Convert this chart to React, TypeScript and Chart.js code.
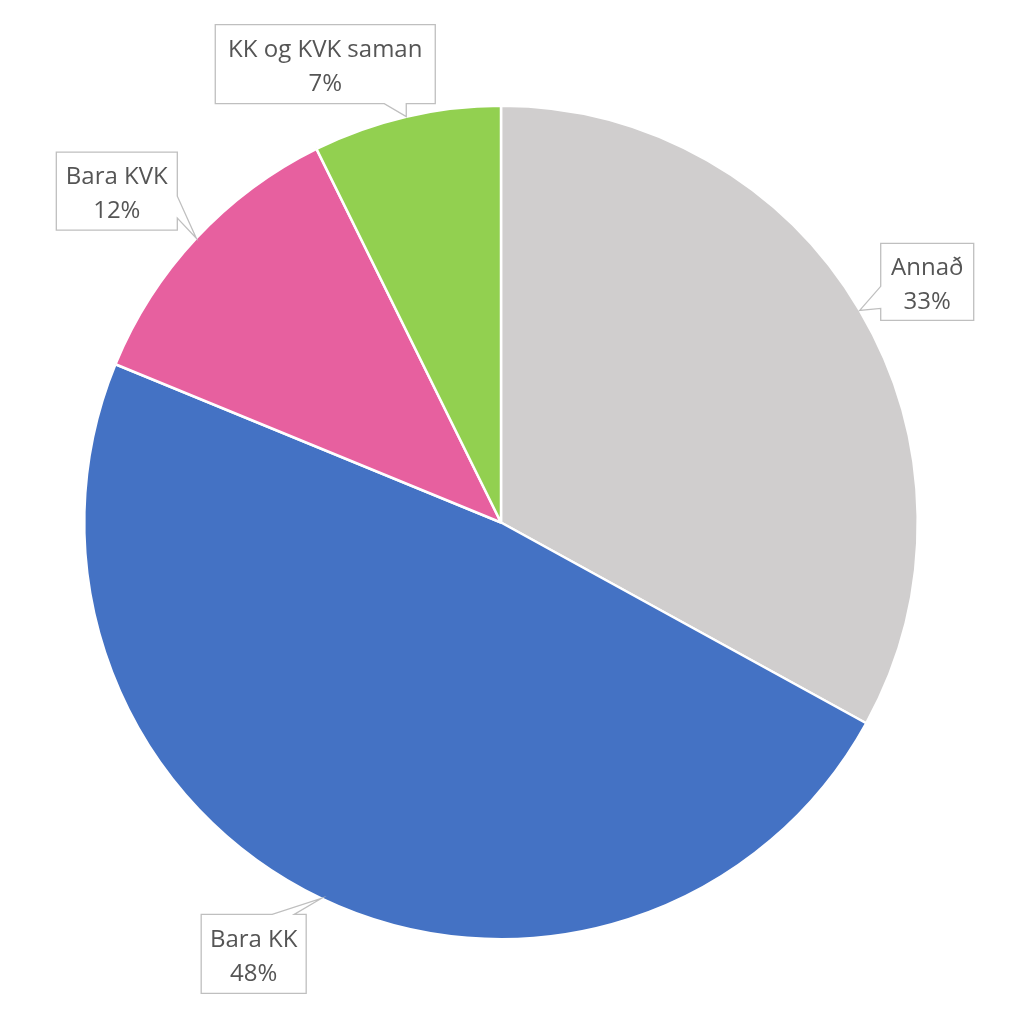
import React, { useEffect, useRef } from "react";
import { Chart, registerables } from "chart.js";

Chart.register(...registerables);

const categories = ["Annað", "Bara KK", "Bara KVK", "KK og KVK saman"];
const values = [33.0, 48.2, 11.5, 7.3];
const percentLabels = ["33%", "48%", "12%", "7%"];
const colors = ["#D0CECE", "#4472C4", "#E7609F", "#92D050"];

// Callout box placement relative to the point on the slice's outer edge
const calloutOffsets = [
  { dx: 21, dy: -67, w: 93, h: 77, side: "left" },
  { dx: -120, dy: 16, w: 105, h: 79, side: "top" },
  { dx: -140, dy: -86, w: 121, h: 78, side: "right" },
  { dx: -191, dy: -92, w: 220, h: 79, side: "bottom" },
];

const calloutPlugin = {
  id: "callouts",
  afterDatasetsDraw(chart: any) {
    const ctx = chart.ctx as CanvasRenderingContext2D;
    const meta = chart.getDatasetMeta(0);
    meta.data.forEach((arc: any, i: number) => {
      const p = arc.getProps(["x", "y", "startAngle", "endAngle", "outerRadius"], true);
      const mid = (p.startAngle + p.endAngle) / 2;
      const tx = p.x + Math.cos(mid) * p.outerRadius;
      const ty = p.y + Math.sin(mid) * p.outerRadius;
      const o = calloutOffsets[i];
      const L = tx + o.dx;
      const T = ty + o.dy;
      const R = L + o.w;
      const B = T + o.h;
      const baseW = 22;
      let b1: number;
      if (o.side === "left" || o.side === "right") {
        b1 = Math.min(ty, B - 12);
      } else {
        b1 = Math.min(tx, R - 12);
      }
      const b0 = b1 - baseW;
      ctx.save();
      ctx.beginPath();
      ctx.moveTo(L, T);
      if (o.side === "top") {
        ctx.lineTo(b0, T);
        ctx.lineTo(tx, ty);
        ctx.lineTo(b1, T);
      }
      ctx.lineTo(R, T);
      if (o.side === "right") {
        ctx.lineTo(R, b0);
        ctx.lineTo(tx, ty);
        ctx.lineTo(R, b1);
      }
      ctx.lineTo(R, B);
      if (o.side === "bottom") {
        ctx.lineTo(b1, B);
        ctx.lineTo(tx, ty);
        ctx.lineTo(b0, B);
      }
      ctx.lineTo(L, B);
      if (o.side === "left") {
        ctx.lineTo(L, b1);
        ctx.lineTo(tx, ty);
        ctx.lineTo(L, b0);
      }
      ctx.closePath();
      ctx.fillStyle = "#FFFFFF";
      ctx.fill();
      ctx.strokeStyle = "#BFBFBF";
      ctx.lineWidth = 1.3;
      ctx.stroke();

      ctx.fillStyle = "#555555";
      ctx.font = "24px 'Open Sans', sans-serif";
      ctx.textAlign = "center";
      ctx.textBaseline = "alphabetic";
      const cx = (L + R) / 2;
      const cy = (T + B) / 2;
      ctx.fillText(categories[i], cx, cy - 7);
      ctx.fillText(percentLabels[i], cx, cy + 27);
      ctx.restore();
    });
  },
};

export default function App() {
  const ref = useRef<HTMLCanvasElement | null>(null);
  useEffect(() => {
    if (!ref.current) return;
    const chart = new Chart(ref.current, {
      type: "pie",
      data: {
        labels: categories,
        datasets: [
          {
            data: values,
            backgroundColor: colors,
            borderColor: "#FFFFFF",
            borderWidth: 2.5,
          },
        ],
      },
      options: {
        responsive: false,
        animation: false,
        rotation: 0,
        layout: { padding: { left: 83, right: 105, top: 104, bottom: 83 } },
        plugins: {
          legend: { display: false },
          tooltip: { enabled: false },
        },
      },
      plugins: [calloutPlugin],
    });
    return () => chart.destroy();
  }, []);
  return (
    <div style={{ position: "fixed", left: 0, top: 0, width: 1024, height: 1024, background: "#FFFFFF" }}>
      <canvas ref={ref} width={1024} height={1024} style={{ width: 1024, height: 1024 }} />
    </div>
  );
}
